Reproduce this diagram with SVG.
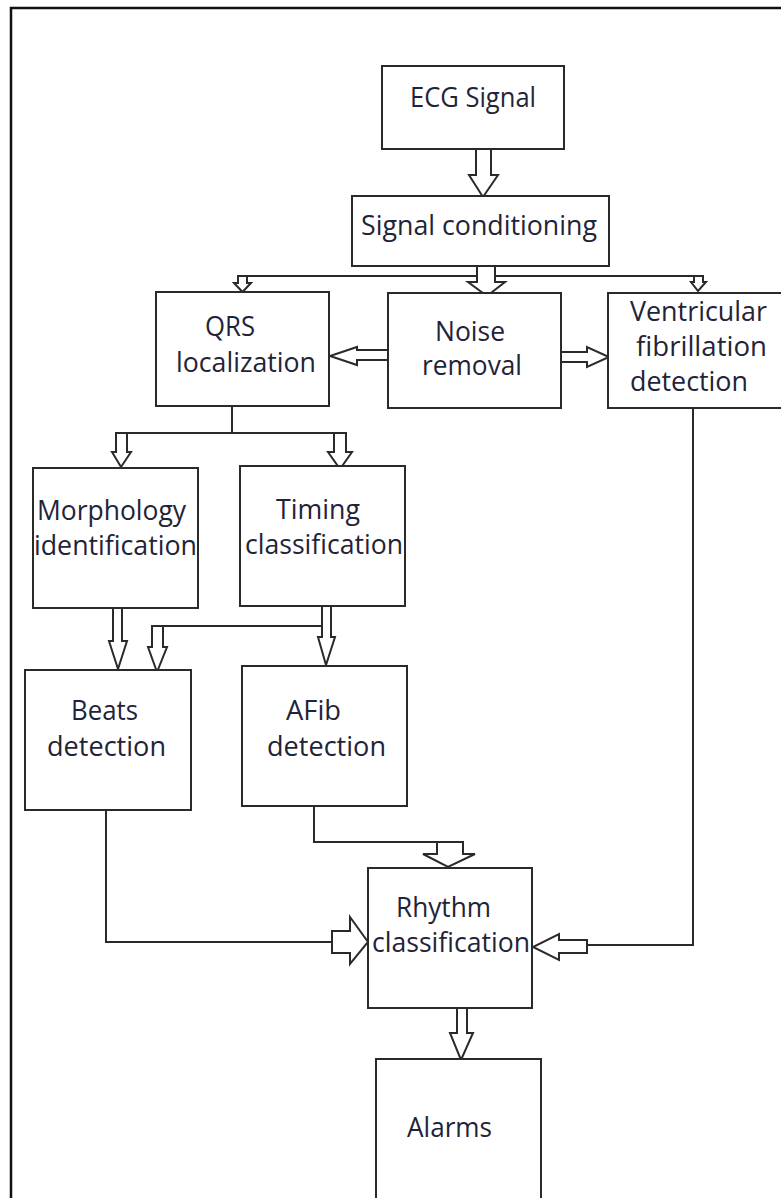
<svg xmlns="http://www.w3.org/2000/svg" width="781" height="1198" viewBox="0 0 781 1198">
<style>
.box{fill:#ffffff;stroke:#2a2a2a;stroke-width:2}
.ln{fill:none;stroke:#2a2a2a;stroke-width:2}
.arr{fill:#ffffff;stroke:#2a2a2a;stroke-width:2;stroke-linejoin:miter}
.t{font-family:"Open Sans","Noto Sans","Liberation Sans",sans-serif;font-size:26.5px;fill:#1f2438}
</style>
<rect x="0" y="0" width="781" height="1198" fill="#ffffff"/>
<path d="M11,1198 V8 H781" fill="none" stroke="#111111" stroke-width="2.5"/>

<g id="connectors">
  <path class="ln" d="M237,276 H703"/>
  <path class="ln" d="M232,406 V433 M116,433 H346"/>
  <path class="ln" d="M152,626 H322"/>
  <path class="ln" d="M693,408 V945 H587"/>
  <path class="ln" d="M106,810 V942 H332"/>
  <path class="ln" d="M314,806 V842 H437"/>
  <polygon class="arr" points="476,149 491,149 491,175 498,175 483,197 469,175 476,175"/>
  <polygon class="arr" points="477,266 495,266 495,282 505,282 487,296 468,282 477,282"/>
  <polygon class="arr" points="238,276 247,276 247,283 251,283 242.5,292 234,283 238,283"/>
  <polygon class="arr" points="694,276 703,276 703,282 706,282 698,291 691,282 694,282"/>
  <polygon class="arr" points="388,350 388,360 357,360 357,365 330,356 357,347 357,350"/>
  <polygon class="arr" points="561,352 561,362 587,362 587,367 609,357 587,347 587,352"/>
  <polygon class="arr" points="116,433 127,433 127,452 131,452 121,467 112,452 116,452"/>
  <polygon class="arr" points="334,433 346,433 346,452 352,452 340,469 328,452 334,452"/>
  <polygon class="arr" points="113,608 122,608 122,641 127,641 118,669 109,641 113,641"/>
  <polygon class="arr" points="152,626 163,626 163,647 167,647 157,672 148,647 152,647"/>
  <polygon class="arr" points="322,606 331,606 331,637 335,637 326,665 318,637 322,637"/>
  <polygon class="arr" points="437,842 463,842 463,854 475,854 448,867 423,854 437,854"/>
  <polygon class="arr" points="332,931 350,931 350,917 368,942 350,964 350,953 332,953"/>
  <polygon class="arr" points="587,940 559,940 559,934 533,947 559,960 559,953 587,953"/>
  <polygon class="arr" points="457,1008 467,1008 467,1033 473,1033 461,1060 450,1033 457,1033"/>
</g>

<g id="node-ecg">
  <rect class="box" x="382" y="66" width="182" height="83"/>
  <text class="t" x="410" y="107" textLength="126" lengthAdjust="spacingAndGlyphs">ECG Signal</text>
</g>
<g id="node-signal-conditioning">
  <rect class="box" x="352" y="196" width="257" height="70"/>
  <text class="t" x="361" y="235" textLength="236" lengthAdjust="spacingAndGlyphs">Signal conditioning</text>
</g>
<g id="node-qrs">
  <rect class="box" x="156" y="292" width="173" height="114"/>
  <text class="t" x="205" y="336" textLength="50" lengthAdjust="spacingAndGlyphs">QRS</text>
  <text class="t" x="176" y="372" textLength="140" lengthAdjust="spacingAndGlyphs">localization</text>
</g>
<g id="node-noise">
  <rect class="box" x="388" y="293" width="173" height="115"/>
  <text class="t" x="435" y="341" textLength="70" lengthAdjust="spacingAndGlyphs">Noise</text>
  <text class="t" x="422" y="375" textLength="100" lengthAdjust="spacingAndGlyphs">removal</text>
</g>
<g id="node-vf">
  <rect class="box" x="608" y="293" width="180" height="115"/>
  <text class="t" x="630" y="321" textLength="137" lengthAdjust="spacingAndGlyphs">Ventricular</text>
  <text class="t" x="636" y="356" textLength="131" lengthAdjust="spacingAndGlyphs">fibrillation</text>
  <text class="t" x="630" y="391" textLength="118" lengthAdjust="spacingAndGlyphs">detection</text>
</g>
<g id="node-morphology">
  <rect class="box" x="33" y="468" width="165" height="140"/>
  <text class="t" x="37" y="520" textLength="149" lengthAdjust="spacingAndGlyphs">Morphology</text>
  <text class="t" x="34" y="555" textLength="163" lengthAdjust="spacingAndGlyphs">identification</text>
</g>
<g id="node-timing">
  <rect class="box" x="240" y="466" width="165" height="140"/>
  <text class="t" x="276" y="519" textLength="84" lengthAdjust="spacingAndGlyphs">Timing</text>
  <text class="t" x="245" y="554" textLength="158" lengthAdjust="spacingAndGlyphs">classification</text>
</g>
<g id="node-beats">
  <rect class="box" x="25" y="670" width="166" height="140"/>
  <text class="t" x="71" y="720" textLength="67" lengthAdjust="spacingAndGlyphs">Beats</text>
  <text class="t" x="47" y="756" textLength="119" lengthAdjust="spacingAndGlyphs">detection</text>
</g>
<g id="node-afib">
  <rect class="box" x="242" y="666" width="165" height="140"/>
  <text class="t" x="286" y="720" textLength="55" lengthAdjust="spacingAndGlyphs">AFib</text>
  <text class="t" x="267" y="756" textLength="119" lengthAdjust="spacingAndGlyphs">detection</text>
</g>
<g id="node-rhythm">
  <rect class="box" x="368" y="868" width="164" height="140"/>
  <text class="t" x="396" y="917" textLength="95" lengthAdjust="spacingAndGlyphs">Rhythm</text>
  <text class="t" x="372" y="952" textLength="158" lengthAdjust="spacingAndGlyphs">classification</text>
</g>
<g id="node-alarms">
  <rect class="box" x="376" y="1059" width="165" height="160"/>
  <text class="t" x="407" y="1137" textLength="85" lengthAdjust="spacingAndGlyphs">Alarms</text>
</g>
</svg>
